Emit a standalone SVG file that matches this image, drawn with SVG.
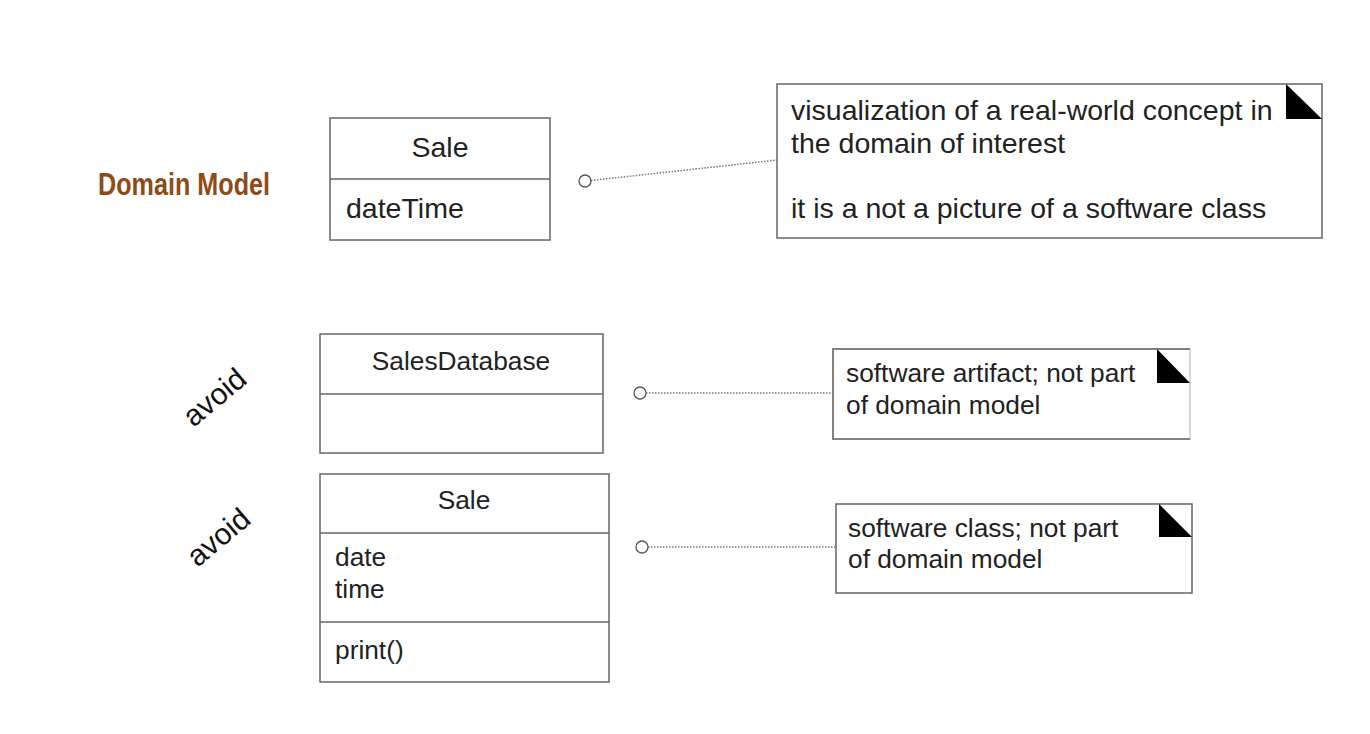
<svg xmlns="http://www.w3.org/2000/svg" width="1370" height="734" viewBox="0 0 1370 734">
<style>
  .box { fill: #fff; stroke: #666; stroke-width: 1.5; }
  .div { stroke: #666; stroke-width: 1.5; fill: none; }
  .t { font-family: "Liberation Sans", Arial, sans-serif; font-size: 26.3px; fill: #222; }
  .big { font-size: 28.5px; }
  .c { text-anchor: middle; }
  .conn { stroke: #777; stroke-width: 1.5; stroke-dasharray: 1.5 1.5; fill: none; }
  .dot { fill: #fff; stroke: #555; stroke-width: 1.3; }
  .fold { fill: #000; }
  .avoid { font-family: "Liberation Sans", Arial, sans-serif; font-size: 30px; fill: #111; text-anchor: middle; }
</style>
<rect width="1370" height="734" fill="#fff"/>

<text id="title" x="98" y="195" font-family="'Liberation Sans', Arial, sans-serif" font-weight="bold" font-size="31" fill="#8E4B16" textLength="172" lengthAdjust="spacingAndGlyphs">Domain Model</text>

<g id="avoid1"><text class="avoid" transform="translate(221,405) rotate(-40)">avoid</text></g>
<g id="avoid2"><text class="avoid" transform="translate(225,545) rotate(-40)">avoid</text></g>

<g id="connectors">
  <line class="conn" x1="591" y1="180.5" x2="777" y2="160"/>
  <circle class="dot" cx="585" cy="181" r="6"/>
  <line class="conn" x1="646" y1="393" x2="833" y2="393"/>
  <circle class="dot" cx="640" cy="393" r="6"/>
  <line class="conn" x1="648" y1="547" x2="836" y2="547"/>
  <circle class="dot" cx="642" cy="547" r="6"/>
</g>

<g id="sale-domain">
  <rect class="box" x="330" y="118" width="220" height="122"/>
  <line class="div" x1="330" y1="179" x2="550" y2="179"/>
  <text class="t big c" x="440" y="157">Sale</text>
  <text class="t big" x="346" y="218">dateTime</text>
</g>

<g id="note-domain">
  <rect class="box" x="777" y="84" width="545" height="154"/>
  <polygon class="fold" points="1286,84 1286,119 1322,119"/>
  <text class="t big" x="791" y="120">visualization of a real-world concept in</text>
  <text class="t big" x="791" y="153">the domain of interest</text>
  <text class="t big" x="791" y="218">it is a not a picture of a software class</text>
</g>

<g id="sales-database">
  <rect class="box" x="320" y="334" width="283" height="119"/>
  <line class="div" x1="320" y1="394" x2="603" y2="394"/>
  <text class="t c" x="461" y="370">SalesDatabase</text>
</g>

<g id="note-artifact">
  <rect x="833" y="349" width="357" height="90" fill="#fff" stroke="#ccc" stroke-width="1.5"/>
  <path class="div" d="M1190,349 H833 V439 H1190"/>
  <polygon class="fold" points="1157,349 1157,383 1190,383"/>
  <text class="t" x="846" y="382">software artifact; not part</text>
  <text class="t" x="846" y="414">of domain model</text>
</g>

<g id="sale-software">
  <rect class="box" x="320" y="474" width="289" height="208"/>
  <line class="div" x1="320" y1="533" x2="609" y2="533"/>
  <line class="div" x1="320" y1="622" x2="609" y2="622"/>
  <text class="t c" x="464" y="509">Sale</text>
  <text class="t" x="335" y="566">date</text>
  <text class="t" x="335" y="598">time</text>
  <text class="t" x="335" y="659">print()</text>
</g>

<g id="note-class">
  <rect class="box" x="836" y="504" width="356" height="89"/>
  <polygon class="fold" points="1159,504 1159,537 1192,537"/>
  <text class="t" x="848" y="537">software class; not part</text>
  <text class="t" x="848" y="568">of domain model</text>
</g>
</svg>
